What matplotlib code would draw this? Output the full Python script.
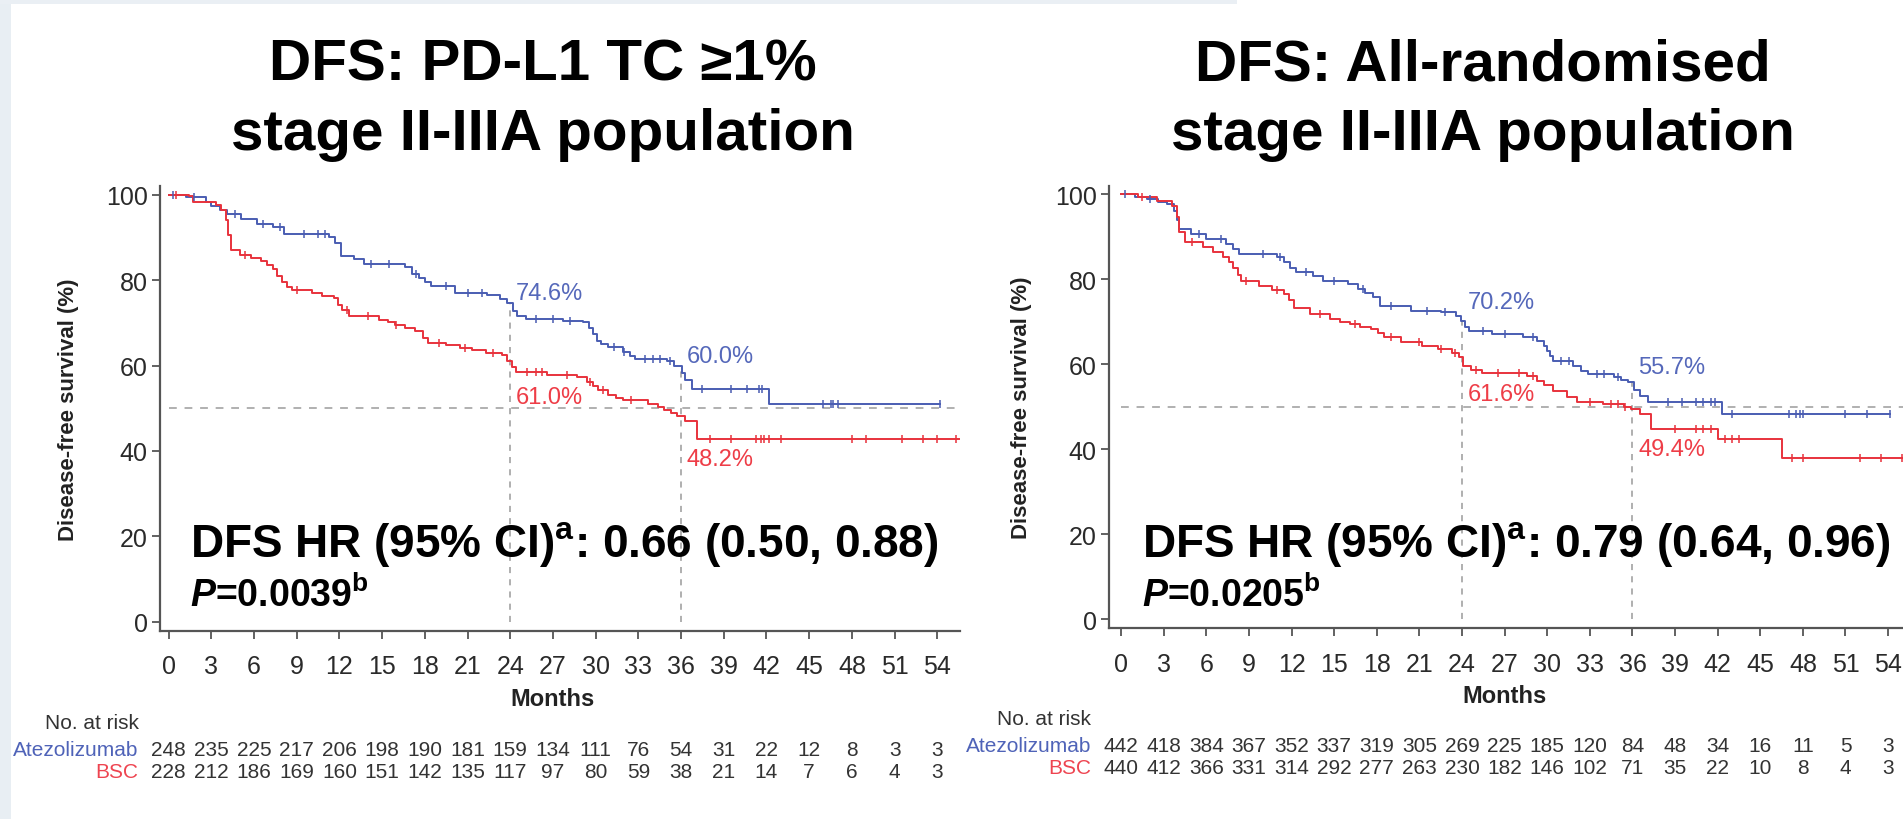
import numpy as np
import matplotlib
matplotlib.use('Agg')
import matplotlib.pyplot as plt
from matplotlib.patches import Rectangle

plt.rcParams['font.family'] = ['Liberation Sans', 'DejaVu Sans']
plt.rcParams['mathtext.fontset'] = 'custom'
plt.rcParams['mathtext.rm'] = 'Liberation Sans:bold'
plt.rcParams['mathtext.bf'] = 'Liberation Sans:bold'
plt.rcParams['mathtext.it'] = 'Liberation Sans:bold:italic'

BLUE = '#4a5db2'
RED = '#e8323c'
BLUE_TXT = '#5568ba'
RED_TXT = '#ee3d47'

### Left panel: PD-L1 TC >=1% stage II-IIIA
L_ATEZO_T = [0, 1.2, 2.6, 3.0, 3.6, 4.1, 5.1, 6.2, 7.3, 8.1, 11.3, 11.7, 12.1, 13.0, 13.7,
             16.6, 17.1, 17.6, 18.0, 18.4, 20.1, 22.4, 23.3, 23.8, 24.2, 24.5, 25.1, 27.7,
             29.1, 29.5, 29.8, 30.1, 30.4, 30.9, 31.9, 32.4, 32.8, 35.0, 35.5, 36.1, 36.3,
             36.8, 42.2, 54.2]
L_ATEZO_S = [100, 99.4, 98.2, 97.4, 96.4, 95.5, 94.4, 93.2, 92.4, 90.8, 90.0, 88.6, 85.7,
             84.9, 83.8, 83.0, 81.4, 80.4, 79.5, 78.6, 77.1, 76.6, 75.6, 74.6, 72.8, 71.7,
             70.9, 70.5, 70.1, 68.9, 67.5, 65.8, 65.0, 64.3, 63.1, 62.2, 61.6, 61.0, 60.0,
             58.2, 56.6, 54.5, 51.0, 51.0]
L_ATEZO_CENS = [0.3, 1.8, 4.7, 6.6, 7.8, 9.5, 10.5, 11.0, 14.2, 15.5, 17.4, 19.5, 21.0, 22.0,
                25.8, 27.0, 28.2, 31.3, 32.0, 33.5, 34.0, 34.5, 35.2, 37.5, 39.5, 40.6, 41.5,
                41.7, 46.0, 46.5, 46.7, 47.0, 54.2]

L_BSC_T = [0, 1.4, 1.7, 3.3, 3.7, 4.0, 4.2, 4.4, 5.0, 5.8, 6.5, 6.9, 7.3, 7.6, 8.0, 8.3, 8.7,
           10.1, 10.8, 11.6, 11.9, 12.2, 12.7, 14.8, 15.4, 15.9, 16.6, 17.3, 17.9, 18.2, 19.5,
           20.5, 21.3, 22.3, 23.4, 23.8, 24.1, 24.4, 26.6, 28.7, 29.4, 29.8, 30.2, 30.9, 31.4,
           31.9, 33.7, 34.4, 34.8, 35.3, 35.7, 36.3, 37.1, 55.5]
L_BSC_S = [100, 99.6, 98.4, 97.6, 96.5, 94.0, 90.5, 87.1, 86.0, 85.2, 84.4, 83.6, 82.5, 81.0,
           79.5, 78.5, 77.8, 77.0, 76.4, 75.8, 74.2, 73.0, 71.5, 70.7, 70.1, 69.5, 68.8, 68.0,
           66.5, 65.2, 64.8, 64.2, 63.7, 63.0, 62.5, 61.0, 59.6, 58.6, 57.8, 57.4, 56.2, 55.2,
           54.3, 53.1, 52.4, 51.9, 51.1, 50.4, 49.6, 48.8, 48.2, 46.9, 42.9, 42.9]
L_BSC_CENS = [0.5, 5.4, 9.0, 12.5, 14.0, 16.0, 19.0, 20.8, 22.8, 25.2, 25.8, 26.2, 28.0, 29.6,
              30.5, 32.5, 38.0, 39.5, 41.3, 41.6, 41.8, 42.2, 43.0, 48.0, 49.0, 51.5, 53.0,
              54.0, 55.3]

L_RISK_ATEZO = [248, 235, 225, 217, 206, 198, 190, 181, 159, 134, 111, 76, 54, 31, 22, 12, 8, 3, 3]
L_RISK_BSC = [228, 212, 186, 169, 160, 151, 142, 135, 117, 97, 80, 59, 38, 21, 14, 7, 6, 4, 3]
L_LABELS = ['74.6%', '60.0%', '61.0%', '48.2%']
L_HR = 'DFS HR (95% CI)$^{\\mathrm{a}}$: 0.66 (0.50, 0.88)'
L_P = '$\\mathit{P}$=0.0039$^{\\mathrm{b}}$'
L_TITLE = ['DFS: PD-L1 TC \u22651%', 'stage II-IIIA population']

### Right panel: all-randomised stage II-IIIA
R_ATEZO_T = [0, 1.0, 1.8, 2.6, 3.2, 3.7, 3.9, 4.1, 4.95, 6.0, 7.4, 7.9, 8.3, 11.0, 11.5, 11.9,
             12.3, 13.5, 14.2, 16.0, 16.7, 17.2, 17.7, 18.2, 20.4, 22.5, 23.6, 23.9, 24.2, 24.5,
             26.1, 28.3, 29.3, 29.8, 30.0, 30.2, 30.4, 31.8, 32.4, 32.9, 34.7, 35.2, 35.7, 36.1,
             36.5, 37.1, 42.3, 54.1]
R_ATEZO_S = [100, 99.4, 98.8, 98.2, 97.6, 96.1, 94.0, 91.8, 90.6, 89.4, 88.2, 87.0, 85.9, 85.1,
             83.9, 82.6, 81.6, 80.8, 79.6, 78.8, 77.6, 76.6, 75.7, 73.7, 72.5, 72.2, 71.4, 70.2,
             68.8, 67.8, 67.1, 66.3, 65.5, 64.3, 63.1, 61.9, 60.8, 59.6, 58.4, 57.6, 56.9, 56.2,
             55.7, 53.8, 52.5, 51.0, 48.2, 48.2]
R_ATEZO_CENS = [0.3, 2.0, 5.5, 7.0, 10.0, 11.2, 13.0, 15.0, 17.0, 19.0, 21.5, 22.8, 25.5, 27.0,
                29.0, 31.0, 31.5, 33.5, 34.0, 35.0, 38.5, 39.5, 40.5, 41.0, 41.5, 41.8, 43.0,
                47.0, 47.5, 47.8, 48.0, 51.0, 52.5, 54.1]

R_BSC_T = [0, 1.2, 2.5, 3.6, 3.9, 4.1, 4.5, 5.75, 6.5, 7.2, 7.6, 7.9, 8.2, 8.45, 9.7, 10.6,
           11.5, 11.8, 12.2, 13.3, 14.7, 15.4, 16.1, 16.8, 17.6, 18.1, 18.5, 19.7, 21.2, 22.3,
           23.3, 23.8, 24.1, 24.6, 25.4, 28.6, 29.3, 29.8, 30.4, 31.4, 32.1, 33.9, 35.4, 35.9,
           36.5, 37.3, 42.0, 46.5, 55.5]
R_BSC_S = [100, 99.2, 98.4, 97.3, 94.5, 91.0, 88.6, 87.5, 86.3, 85.1, 83.9, 82.7, 81.0, 79.6,
           78.4, 77.5, 76.5, 75.0, 73.3, 71.8, 70.6, 70.0, 69.4, 68.8, 68.2, 67.2, 66.3, 65.1,
           64.3, 63.5, 62.7, 61.6, 59.6, 58.6, 58.0, 57.2, 56.1, 55.0, 53.7, 52.2, 51.0, 50.6,
           49.8, 49.4, 48.2, 44.7, 42.4, 38.0, 38.0]
R_BSC_CENS = [1.5, 5.0, 8.8, 11.0, 14.0, 16.5, 19.0, 21.0, 22.5, 23.5, 25.0, 26.5, 28.0, 29.0,
              33.0, 34.5, 35.0, 35.5, 39.0, 40.5, 41.0, 41.5, 42.5, 43.0, 43.5, 47.2, 48.0,
              52.0, 53.5, 55.0]

R_RISK_ATEZO = [442, 418, 384, 367, 352, 337, 319, 305, 269, 225, 185, 120, 84, 48, 34, 16, 11, 5, 3]
R_RISK_BSC = [440, 412, 366, 331, 314, 292, 277, 263, 230, 182, 146, 102, 71, 35, 22, 10, 8, 4, 3]
R_LABELS = ['70.2%', '55.7%', '61.6%', '49.4%']
R_HR = 'DFS HR (95% CI)$^{\\mathrm{a}}$: 0.79 (0.64, 0.96)'
R_P = '$\\mathit{P}$=0.0205$^{\\mathrm{b}}$'
R_TITLE = ['DFS: All-randomised', 'stage II-IIIA population']

MONTHS = list(range(0, 55, 3))


def step_value(times, surv, t):
    i = np.searchsorted(times, t, side='right') - 1
    return np.asarray(surv)[i]


fig = plt.figure(figsize=(19.03, 8.2), dpi=100)
fig.patch.set_facecolor('white')
# slide background strips
fig.add_artist(Rectangle((0, 0), 0.006, 1, transform=fig.transFigure, color='#e8eef3', lw=0))
fig.add_artist(Rectangle((0, 0.994), 0.65, 0.006, transform=fig.transFigure, color='#eaeff4', lw=0))

panels = [
    dict(rect=[0.0841, 0.2296, 0.4204, 0.5421], xlim=(-0.6, 55.6), title_x=0.2855,
         a_t=L_ATEZO_T, a_s=L_ATEZO_S, a_c=L_ATEZO_CENS, b_t=L_BSC_T, b_s=L_BSC_S, b_c=L_BSC_CENS,
         risk_a=L_RISK_ATEZO, risk_b=L_RISK_BSC, labels=L_LABELS, hr=L_HR, p=L_P, title=L_TITLE,
         lab_y=[77.0, 62.3, 52.6, 38.1], hr_y=15.4, p_y=3.7, ylab_x=-0.115),
    dict(rect=[0.5828, 0.2330, 0.4243, 0.5395], xlim=(-0.85, 56.0), title_x=0.7793,
         a_t=R_ATEZO_T, a_s=R_ATEZO_S, a_c=R_ATEZO_CENS, b_t=R_BSC_T, b_s=R_BSC_S, b_c=R_BSC_CENS,
         risk_a=R_RISK_ATEZO, risk_b=R_RISK_BSC, labels=R_LABELS, hr=R_HR, p=R_P, title=R_TITLE,
         lab_y=[74.6, 59.3, 52.9, 40.0], hr_y=14.9, p_y=3.1, ylab_x=-0.109),
]

for pn in panels:
    ax = fig.add_axes(pn['rect'])
    ax.set_xlim(*pn['xlim'])
    ax.set_ylim(-2.1, 102)

    # reference lines
    ax.plot([0, pn['xlim'][1]], [50, 50], color='#b0b0b0', lw=1.4, dashes=(4, 4), zorder=1)
    for m in (24, 36):
        top = step_value(pn['a_t'], pn['a_s'], m)
        ax.plot([m, m], [0, top], color='#9a9a9a', lw=1.1, dashes=(4, 4), zorder=1)

    # KM curves
    ax.step(pn['a_t'], pn['a_s'], where='post', color=BLUE, lw=1.4, zorder=3)
    ax.step(pn['b_t'], pn['b_s'], where='post', color=RED, lw=1.4, zorder=3)
    ax.plot(pn['a_c'], step_value(pn['a_t'], pn['a_s'], pn['a_c']), ls='none', marker='|',
            ms=6, mew=1.1, color=BLUE, zorder=4)
    ax.plot(pn['b_c'], step_value(pn['b_t'], pn['b_s'], pn['b_c']), ls='none', marker='|',
            ms=6, mew=1.1, color=RED, zorder=4)

    # landmark labels
    ax.text(24.4, pn['lab_y'][0], pn['labels'][0], color=BLUE_TXT, fontsize=17, va='center')
    ax.text(36.4, pn['lab_y'][1], pn['labels'][1], color=BLUE_TXT, fontsize=17, va='center')
    ax.text(24.4, pn['lab_y'][2], pn['labels'][2], color=RED_TXT, fontsize=17, va='center')
    ax.text(36.4, pn['lab_y'][3], pn['labels'][3], color=RED_TXT, fontsize=17, va='center')

    # HR and P
    ax.text(1.5, pn['hr_y'], pn['hr'], fontsize=33, fontweight='bold', va='baseline', zorder=5)
    ax.text(1.5, pn['p_y'], pn['p'], fontsize=27, fontweight='bold', va='baseline', zorder=5)

    # axes styling
    for s in ('top', 'right'):
        ax.spines[s].set_visible(False)
    for s in ('left', 'bottom'):
        ax.spines[s].set_color('#555555')
        ax.spines[s].set_linewidth(1.6)
    ax.spines['left'].set_bounds(-2.1, 102)
    ax.set_xticks(MONTHS)
    ax.set_yticks([0, 20, 40, 60, 80, 100])
    ax.tick_params(axis='x', length=6, width=1.3, color='#555555', labelsize=18,
                   labelcolor='#2a2a2a', pad=11)
    ax.tick_params(axis='y', length=6, width=1.3, color='#555555', labelsize=18,
                   labelcolor='#2a2a2a', pad=3)
    ax.text(pn['ylab_x'], 0.5, 'Disease-free survival (%)', transform=ax.transAxes,
            rotation=90, ha='center', va='center', fontsize=16, fontweight='bold', color='#222222')
    ax.text(27, -18.0, 'Months', ha='center', va='center', fontsize=17, fontweight='bold',
            color='#222222', clip_on=False)

    # number at risk table
    ax.text(-2.1, -23.5, 'No. at risk', ha='right', va='center', fontsize=15, color='#333333',
            clip_on=False)
    ax.text(-2.1, -29.8, 'Atezolizumab', ha='right', va='center', fontsize=15, color='#4f63b8',
            clip_on=False)
    ax.text(-2.1, -35.0, 'BSC', ha='right', va='center', fontsize=15, color='#ee4450',
            clip_on=False)
    for m, na, nb in zip(MONTHS, pn['risk_a'], pn['risk_b']):
        ax.text(m, -29.8, str(na), ha='center', va='center', fontsize=15, color='#333333',
                clip_on=False)
        ax.text(m, -35.0, str(nb), ha='center', va='center', fontsize=15, color='#333333',
                clip_on=False)

    # title
    fig.text(pn['title_x'], 0.9024, pn['title'][0], ha='center', va='baseline', fontsize=42,
             fontweight='bold', color='black')
    fig.text(pn['title_x'], 0.817, pn['title'][1], ha='center', va='baseline', fontsize=42,
             fontweight='bold', color='black')

fig.savefig('out.png', dpi=100)
